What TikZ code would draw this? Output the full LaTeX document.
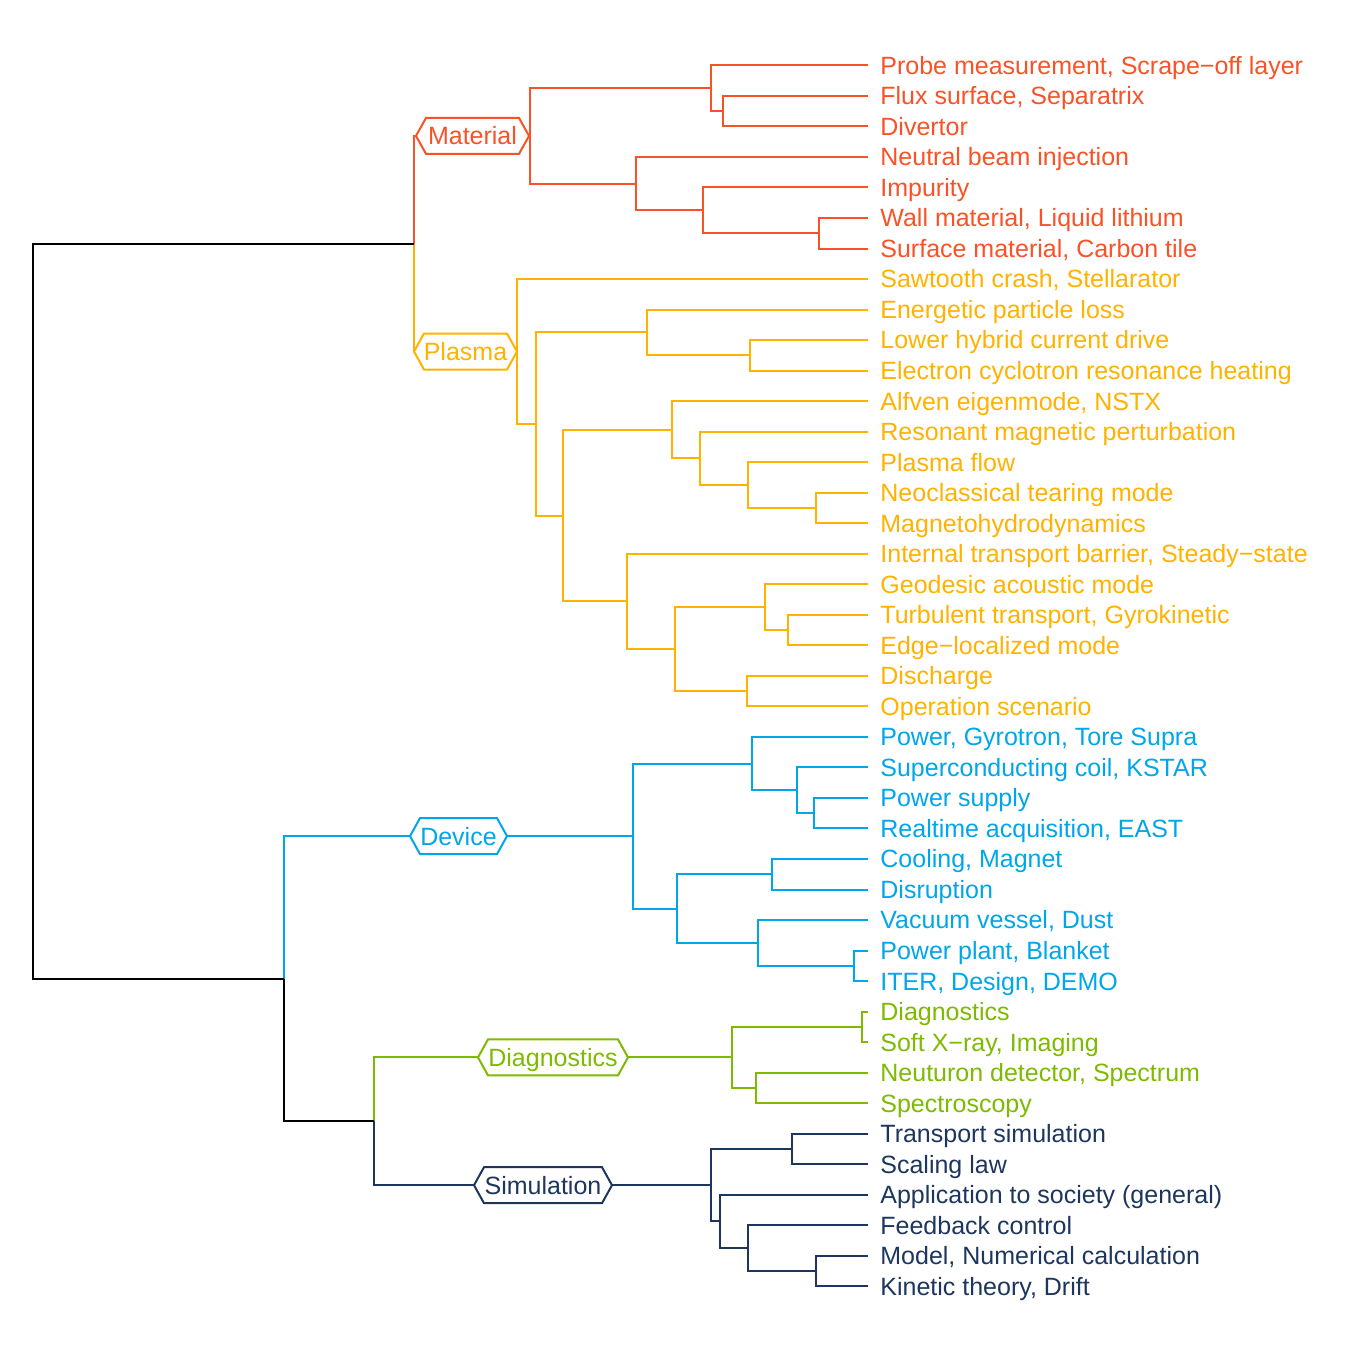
\documentclass[tikz,border=0pt]{standalone}
\usepackage{fontspec}
\setmainfont{Liberation Sans}
\usetikzlibrary{calc}
\definecolor{matc}{RGB}{249,82,38}
\definecolor{plac}{RGB}{255,178,0}
\definecolor{devc}{RGB}{0,166,234}
\definecolor{diac}{RGB}{125,186,0}
\definecolor{simc}{RGB}{28,54,94}
\tikzset{
  br/.style={line width=1pt},
  lbfont/.style={font=\fontsize{12.5}{14}\selectfont},
  leaf/.style={lbfont, anchor=west, inner xsep=6pt, inner ysep=0pt, text height=8.95pt, text depth=0pt},
  hexbox/.style={lbfont, inner sep=0pt, minimum height=18pt, text height=8.95pt, text depth=0pt},
}
% name, left tip x, right tip x, y, colour, text
\newcommand\hexlab[6]{%
  \coordinate (#1L) at (#2,#4);
  \coordinate (#1R) at (#3,#4);
  \node[hexbox, text=#5] (#1) at ({(#2+#3)/2},#4) {#6};
  \draw[br,#5] (#1L) -- ($(#1L)+(10,-18)$) -- ($(#1R)+(-10,-18)$) -- (#1R) -- ($(#1R)+(-10,18)$) -- ($(#1L)+(10,18)$) -- cycle;
}
\begin{document}
\begin{tikzpicture}[x=0.5pt,y=-0.5pt]
\useasboundingbox (0,0) rectangle (1350,1350);
% leaves
\node[leaf,text=matc] (l1) at (868,65.3) {Probe measurement, Scrape−off layer};
\node[leaf,text=matc] (l2) at (868,95.8) {Flux surface, Separatrix};
\node[leaf,text=matc] (l3) at (868,126.4) {Divertor};
\node[leaf,text=matc] (l4) at (868,156.9) {Neutral beam injection};
\node[leaf,text=matc] (l5) at (868,187.4) {Impurity};
\node[leaf,text=matc] (l6) at (868,217.9) {Wall material, Liquid lithium};
\node[leaf,text=matc] (l7) at (868,248.5) {Surface material, Carbon tile};
\node[leaf,text=plac] (l8) at (868,279.0) {Sawtooth crash, Stellarator};
\node[leaf,text=plac] (l9) at (868,309.5) {Energetic particle loss};
\node[leaf,text=plac] (l10) at (868,340.0) {Lower hybrid current drive};
\node[leaf,text=plac] (l11) at (868,370.6) {Electron cyclotron resonance heating};
\node[leaf,text=plac] (l12) at (868,401.1) {Alfven eigenmode, NSTX};
\node[leaf,text=plac] (l13) at (868,431.6) {Resonant magnetic perturbation};
\node[leaf,text=plac] (l14) at (868,462.1) {Plasma flow};
\node[leaf,text=plac] (l15) at (868,492.7) {Neoclassical tearing mode};
\node[leaf,text=plac] (l16) at (868,523.2) {Magnetohydrodynamics};
\node[leaf,text=plac] (l17) at (868,553.7) {Internal transport barrier, Steady−state};
\node[leaf,text=plac] (l18) at (868,584.2) {Geodesic acoustic mode};
\node[leaf,text=plac] (l19) at (868,614.8) {Turbulent transport, Gyrokinetic};
\node[leaf,text=plac] (l20) at (868,645.3) {Edge−localized mode};
\node[leaf,text=plac] (l21) at (868,675.8) {Discharge};
\node[leaf,text=plac] (l22) at (868,706.3) {Operation scenario};
\node[leaf,text=devc] (l23) at (868,736.9) {Power, Gyrotron, Tore Supra};
\node[leaf,text=devc] (l24) at (868,767.4) {Superconducting coil, KSTAR};
\node[leaf,text=devc] (l25) at (868,797.9) {Power supply};
\node[leaf,text=devc] (l26) at (868,828.4) {Realtime acquisition, EAST};
\node[leaf,text=devc] (l27) at (868,859.0) {Cooling, Magnet};
\node[leaf,text=devc] (l28) at (868,889.5) {Disruption};
\node[leaf,text=devc] (l29) at (868,920.0) {Vacuum vessel, Dust};
\node[leaf,text=devc] (l30) at (868,950.5) {Power plant, Blanket};
\node[leaf,text=devc] (l31) at (868,981.1) {ITER, Design, DEMO};
\node[leaf,text=diac] (l32) at (868,1011.6) {Diagnostics};
\node[leaf,text=diac] (l33) at (868,1042.1) {Soft X−ray, Imaging};
\node[leaf,text=diac] (l34) at (868,1072.6) {Neuturon detector, Spectrum};
\node[leaf,text=diac] (l35) at (868,1103.2) {Spectroscopy};
\node[leaf,text=simc] (l36) at (868,1133.7) {Transport simulation};
\node[leaf,text=simc] (l37) at (868,1164.2) {Scaling law};
\node[leaf,text=simc] (l38) at (868,1194.7) {Application to society (general)};
\node[leaf,text=simc] (l39) at (868,1225.3) {Feedback control};
\node[leaf,text=simc] (l40) at (868,1255.8) {Model, Numerical calculation};
\node[leaf,text=simc] (l41) at (868,1286.3) {Kinetic theory, Drift};
% group labels
\hexlab{Mat}{416}{529}{135.9}{matc}{Material}
\hexlab{Pla}{414}{517}{351.5}{plac}{Plasma}
\hexlab{Dev}{410}{507}{836.1}{devc}{Device}
\hexlab{Dia}{478}{628}{1057.4}{diac}{Diagnostics}
\hexlab{Sim}{474}{612}{1185.2}{simc}{Simulation}
% junctions
\coordinate (m23) at (723,111.1);
\coordinate (m1) at (711,88.2);
\coordinate (m67) at (819,233.2);
\coordinate (m5) at (703,210.3);
\coordinate (m4) at (636,183.6);
\coordinate (m0) at (530,135.9);
\coordinate (p1011) at (750,355.3);
\coordinate (p9) at (647,332.4);
\coordinate (p1516) at (816,507.95);
\coordinate (p14) at (748,485.0);
\coordinate (p13) at (700,458.3);
\coordinate (p12) at (672,429.7);
\coordinate (p1920) at (788,630.05);
\coordinate (p18) at (765,607.1);
\coordinate (p2122) at (747,691.05);
\coordinate (p18b) at (675,649.1);
\coordinate (p17) at (627,601.4);
\coordinate (p12b) at (563,515.55);
\coordinate (p9b) at (536,424.0);
\coordinate (p0) at (517,351.5);
\coordinate (mp) at (414,243.7);
\coordinate (d2526) at (814,813.15);
\coordinate (d24) at (797,790.3);
\coordinate (d23) at (752,763.6);
\coordinate (d2728) at (772,874.25);
\coordinate (d3031) at (854,965.8);
\coordinate (d29) at (758,942.9);
\coordinate (d27) at (677,908.6);
\coordinate (d0) at (633,836.1);
\coordinate (g3233) at (862,1026.85);
\coordinate (g3435) at (756,1087.9);
\coordinate (g0) at (732,1057.4);
\coordinate (s3637) at (792,1148.95);
\coordinate (s4041) at (816,1271.05);
\coordinate (s39) at (748,1248.2);
\coordinate (s38) at (720,1221.45);
\coordinate (s0) at (711,1185.2);
\coordinate (ds) at (374,1121.3);
\coordinate (b) at (284,978.7);
\coordinate (root) at (33,611.2);
% Material
\begin{scope}[br,matc]
\draw (l2.west) -| (m23) |- (l3.west);
\draw (l1.west) -| (m1) |- (m23);
\draw (l6.west) -| (m67) |- (l7.west);
\draw (l5.west) -| (m5) |- (m67);
\draw (l4.west) -| (m4) |- (m5);
\draw (m1) -| (m0) |- (m4);
\draw (MatR) -- (m0);
\draw (MatL) -| (mp);
\end{scope}
% Plasma
\begin{scope}[br,plac]
\draw (l10.west) -| (p1011) |- (l11.west);
\draw (l9.west) -| (p9) |- (p1011);
\draw (l15.west) -| (p1516) |- (l16.west);
\draw (l14.west) -| (p14) |- (p1516);
\draw (l13.west) -| (p13) |- (p14);
\draw (l12.west) -| (p12) |- (p13);
\draw (l19.west) -| (p1920) |- (l20.west);
\draw (l18.west) -| (p18) |- (p1920);
\draw (l21.west) -| (p2122) |- (l22.west);
\draw (p18) -| (p18b) |- (p2122);
\draw (l17.west) -| (p17) |- (p18b);
\draw (p12) -| (p12b) |- (p17);
\draw (p9) -| (p9b) |- (p12b);
\draw (l8.west) -| (p0) |- (p9b);
\draw (PlaL) -| (mp);
\end{scope}
% Device
\begin{scope}[br,devc]
\draw (l25.west) -| (d2526) |- (l26.west);
\draw (l24.west) -| (d24) |- (d2526);
\draw (l23.west) -| (d23) |- (d24);
\draw (l27.west) -| (d2728) |- (l28.west);
\draw (l30.west) -| (d3031) |- (l31.west);
\draw (l29.west) -| (d29) |- (d3031);
\draw (d2728) -| (d27) |- (d29);
\draw (d23) -| (d0) |- (d27);
\draw (DevR) -- (d0);
\draw (DevL) -| (b);
\end{scope}
% Diagnostics
\begin{scope}[br,diac]
\draw (l32.west) -| (g3233) |- (l33.west);
\draw (l34.west) -| (g3435) |- (l35.west);
\draw (g3233) -| (g0) |- (g3435);
\draw (DiaR) -- (g0);
\draw (DiaL) -| (ds);
\end{scope}
% Simulation
\begin{scope}[br,simc]
\draw (l36.west) -| (s3637) |- (l37.west);
\draw (l40.west) -| (s4041) |- (l41.west);
\draw (l39.west) -| (s39) |- (s4041);
\draw (l38.west) -| (s38) |- (s39);
\draw (s3637) -| (s0) |- (s38);
\draw (SimR) -- (s0);
\draw (SimL) -| (ds);
\end{scope}
% top levels
\begin{scope}[br,black]
\draw (ds) -| (b);
\draw (mp) -| (root) |- (b);
\end{scope}
\end{tikzpicture}
\end{document}
